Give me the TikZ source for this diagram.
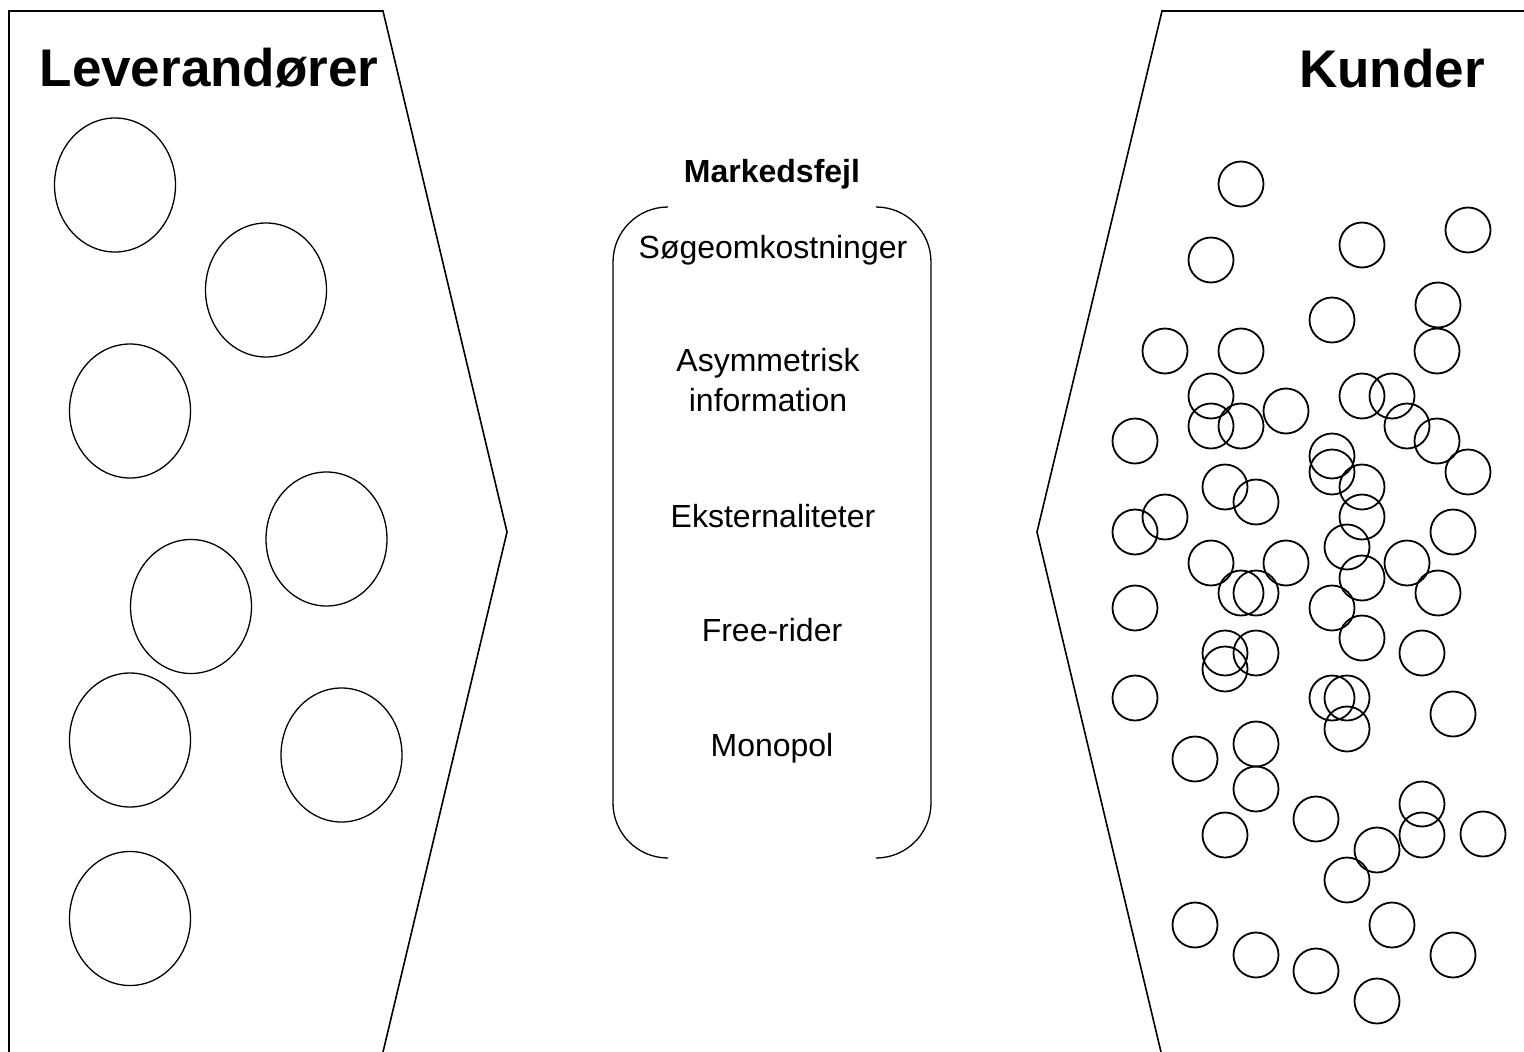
\documentclass[tikz,border=0pt]{standalone}
\usepackage{fontspec}
\setmainfont{Liberation Sans}
\usepackage{tikz}

\tikzset{
    outline/.style={line width=1.6pt},
    supplier/.style={line width=1.3pt},
    customer/.style={line width=1.8pt},
    bracket/.style={line width=1.3pt, rounded corners=55pt},
    bigtitle/.style={font=\fontsize{53}{60}\selectfont\bfseries, anchor=base, inner sep=0pt},
    failure/.style={font=\fontsize{32}{40}\selectfont, anchor=base, inner sep=0pt, align=center}
}

\begin{document}
\begin{tikzpicture}[x=1pt, y=-1pt]
        % Fix the page to the size of the figure
        \useasboundingbox (0,0) rectangle (1524,1052);
        \clip (0,0) rectangle (1524,1052);

        % Draw the two arrow shapes for suppliers and customers
        \draw[outline] (9,1060) -- (9,11) -- (383,11) -- (507,532) -- (383,1052);
        \draw[outline] (1530,11) -- (1162,11) -- (1037,532) -- (1161,1052);

        % Label the two sides
        \node[bigtitle] (lev) at (209,86) {Leverandører};
        \node[bigtitle] (kunder) at (1392,87) {Kunder};

        % Draw the suppliers
        \foreach \x/\y in {115/185, 266/290, 130/411, 326.5/539, 191/606.5,
                130/740, 341.5/755, 130/918.5}
            \draw[supplier] (\x,\y) ellipse (60.5 and 67);

        % Draw the customers
        \foreach \x/\y in {1241/184, 1362/245, 1468/230, 1211/260, 1438/305,
                1332/320, 1165/351, 1241/351, 1437/351, 1211/396, 1362/396,
                1392/396, 1286/411, 1211/426, 1241/426, 1407/426, 1135/441,
                1437/441, 1332/456, 1332/472, 1468/472, 1225/487, 1362/487,
                1256/502, 1165/517, 1362/517, 1135/532, 1453/532, 1347/547,
                1211/563, 1286/563, 1407/563, 1362/578, 1241/593, 1256/593,
                1438/593, 1135/608, 1332/608, 1362/638, 1225/653, 1256/653,
                1422/653, 1225/669, 1135/698, 1332/698, 1347/698, 1453/714,
                1347/729, 1256/744, 1195/759, 1256/789, 1316/819, 1422/804,
                1225/835, 1422/835, 1483/834, 1377/850, 1347/880, 1195/925,
                1392/925, 1256/955, 1453/955, 1316/971, 1377/1001}
            \draw[customer] (\x,\y) circle (22.5);

        % Draw the brackets round the market failures
        \draw[bracket] (668,207) -- (613,207) -- (613,858) -- (668,858);
        \draw[bracket] (877,207) -- (931,207) -- (931,858) -- (877,858);

        % Label the market failures
        \node[failure, font=\fontsize{32}{40}\selectfont\bfseries] (fejl) at (772,182) {Markedsfejl};
        \node[failure] (soeg) at (773,258) {Søgeomkostninger};
        \node[failure, anchor=center] (asym) at (768,380) {Asymmetrisk\\information};
        \node[failure] (ekst) at (773,527) {Eksternaliteter};
        \node[failure] (free) at (772,641) {Free-rider};
        \node[failure] (mono) at (772,756) {Monopol};
    \end{tikzpicture}
\end{document}
